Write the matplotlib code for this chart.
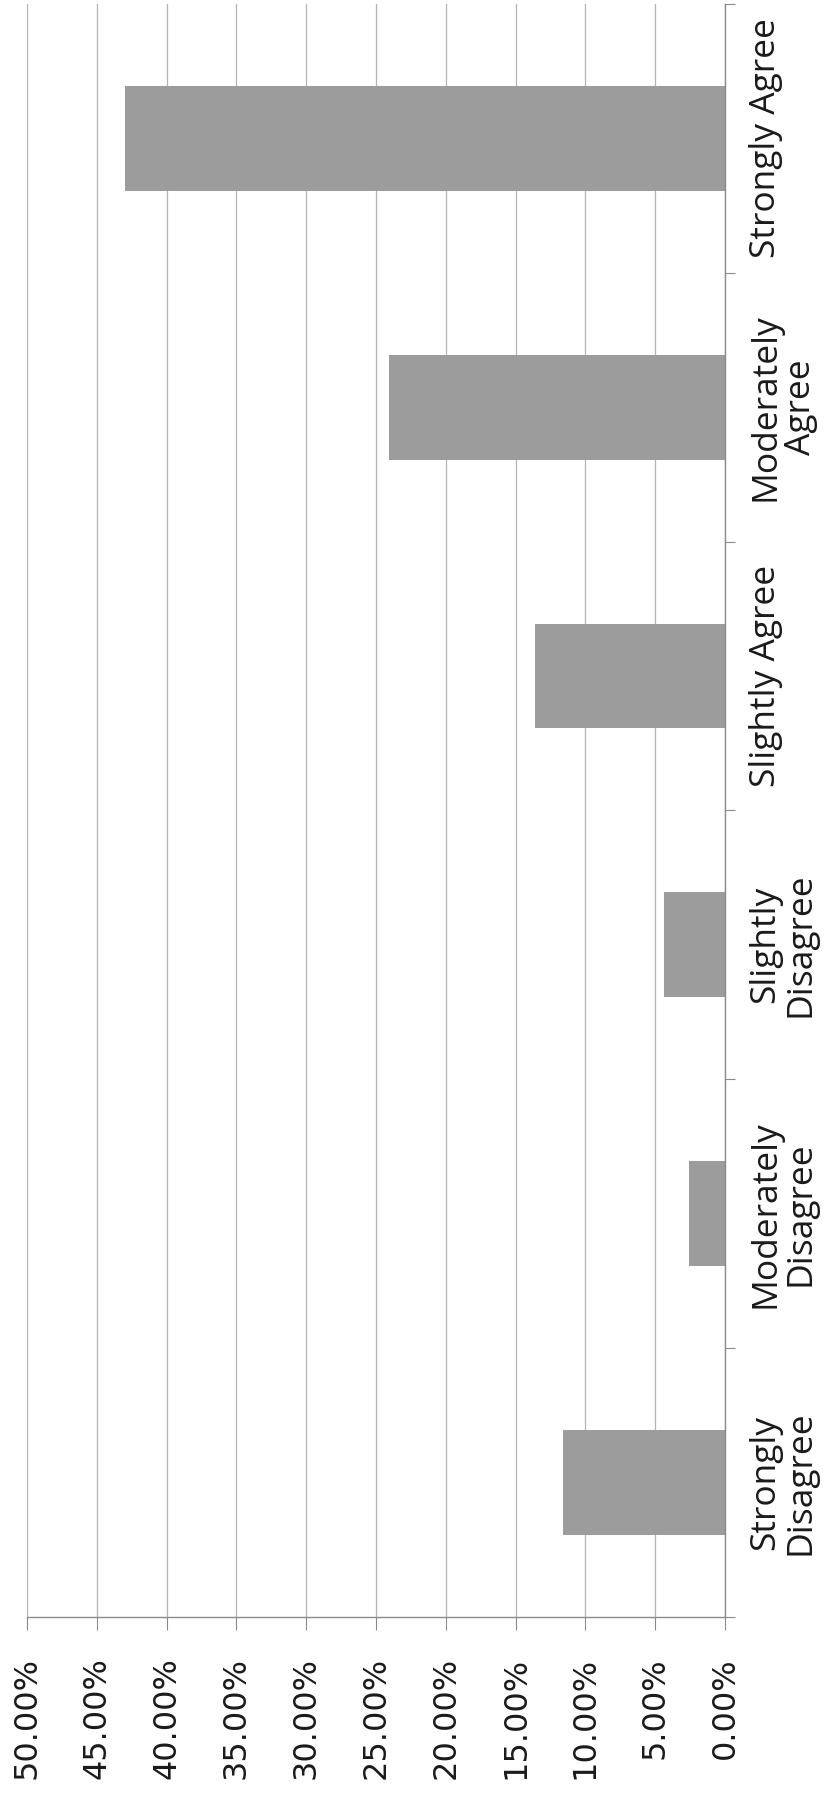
import matplotlib.pyplot as plt
from matplotlib.ticker import FuncFormatter

categories = ["Strongly\nDisagree", "Moderately\nDisagree", "Slightly\nDisagree",
              "Slightly Agree", "Moderately\nAgree", "Strongly Agree"]
shares = [11.6, 2.6, 4.4, 13.6, 24.1, 43.0]
value_ticks = [0, 5, 10, 15, 20, 25, 30, 35, 40, 45, 50]

bar_color = "#9c9c9c"
grid_color = "#b4b4b4"
axis_color = "#8a8a8a"

fig = plt.figure(figsize=(8.26, 18.03), dpi=100)
ax = fig.add_axes([0.0327, 0.1032, 0.845, 0.8946])

pos = list(range(len(categories)))
ax.barh(pos, shares, height=0.39, color=bar_color, linewidth=0, zorder=2)

# value axis runs right to left, 0% against the category axis
ax.set_xlim(50, 0)
ax.set_ylim(-0.5, len(categories) - 0.5)

ax.set_xticks(value_ticks)
ax.xaxis.set_major_formatter(FuncFormatter(lambda v, _: "%.2f%%" % v))
ax.tick_params(axis="x", direction="out", length=9, width=0.8, color=axis_color,
               pad=20, labelsize=23, labelcolor="#1a1a1a", labelrotation=90)
for lbl in ax.get_xticklabels():
    lbl.set_fontfamily("DejaVu Sans")
ax.grid(axis="x", color=grid_color, linewidth=0.9, zorder=0)

# category axis on the right: ticks on boundaries, labels between them
ax.yaxis.tick_right()
ax.set_yticks([p - 0.5 for p in pos] + [pos[-1] + 0.5])
ax.set_yticklabels([])
ax.set_yticks(pos, categories, minor=True)
ax.tick_params(axis="y", which="major", direction="out", length=7, width=0.8,
               color=axis_color)
ax.tick_params(axis="y", which="minor", length=0, pad=17)
for lbl in ax.get_yticklabels(minor=True):
    lbl.set_rotation(90)
    lbl.set_va("center")
    lbl.set_ha("left")
    lbl.set_multialignment("center")
    lbl.set_fontfamily("Open Sans")
    lbl.set_fontsize(25.5)
    lbl.set_color("#1a1a1a")
    lbl.set_linespacing(1.04)

ax.spines["top"].set_visible(False)
ax.spines["left"].set_visible(False)
ax.spines["right"].set_color(axis_color)
ax.spines["bottom"].set_color(axis_color)
ax.spines["right"].set_linewidth(1.0)
ax.spines["bottom"].set_linewidth(1.0)

fig.savefig("out.png", dpi=100, facecolor="white")
